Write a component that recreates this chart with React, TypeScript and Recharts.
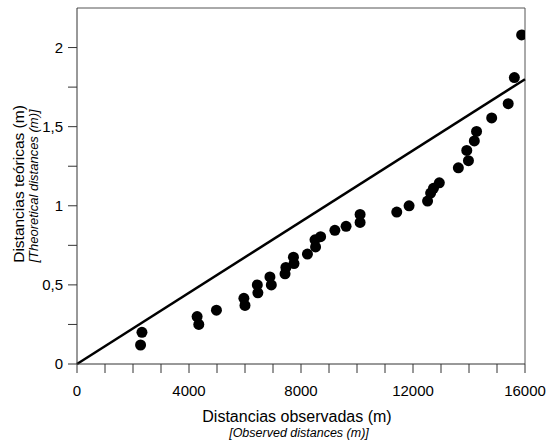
import React from 'react';
import { ScatterChart, Scatter, XAxis, YAxis, ReferenceLine } from 'recharts';

const observedDistances = [
  2270, 2320, 4290, 4350, 4980, 5960, 6000, 6440, 6460, 6890, 6940, 7430, 7460,
  7730, 7750, 8230, 8520, 8500, 8700, 9210, 9610, 10110, 10110, 11420, 11860,
  12520, 12630, 12730, 12940, 13620, 13980, 13920, 14190, 14270, 14810, 15400,
  15620, 15880,
];
const theoreticalDistances = [
  0.12, 0.2, 0.3, 0.25, 0.34, 0.415, 0.37, 0.5, 0.45, 0.55, 0.5, 0.57, 0.61,
  0.675, 0.635, 0.695, 0.74, 0.785, 0.805, 0.845, 0.87, 0.945, 0.895, 0.96, 1.0,
  1.03, 1.08, 1.11, 1.145, 1.24, 1.285, 1.35, 1.41, 1.47, 1.555, 1.645, 1.81, 2.08,
];
const refLineX = [0, 16000];
const refLineY = [0, 1.8];

const xTicks = [0, 1000, 2000, 3000, 4000, 5000, 6000, 7000, 8000, 9000, 10000, 11000, 12000, 13000, 14000, 15000, 16000];
const xTickLabels = ['0', '', '', '', '4000', '', '', '', '8000', '', '', '', '12000', '', '', '', '16000'];
const yTicks = [0, 0.25, 0.5, 0.75, 1, 1.25, 1.5, 1.75, 2];
const yTickLabels = ['0', '', '0,5', '', '1', '', '1,5', '', '2'];

const xTitle = 'Distancias observadas (m)';
const xSubtitle = '[Observed distances (m)]';
const yTitle = 'Distancias teóricas (m)';
const ySubtitle = '[Theoretical distances (m)]';

const data = observedDistances.map((x, i) => ({ x, y: theoreticalDistances[i] }));

const FONT = '"Liberation Sans", Arial, sans-serif';

const XTick = (props: any) => {
  const { x, y, payload } = props;
  const idx = xTicks.indexOf(payload.value);
  const label = idx >= 0 ? xTickLabels[idx] : '';
  if (!label) return null;
  return (
    <text x={x} y={y} dy="0.71em" textAnchor="middle" fontSize={15} fontFamily={FONT} fill="#000">
      {label}
    </text>
  );
};

const YTick = (props: any) => {
  const { x, y, payload } = props;
  const idx = yTicks.indexOf(payload.value);
  const label = idx >= 0 ? yTickLabels[idx] : '';
  if (!label) return null;
  return (
    <text x={x} y={y} dy="0.36em" textAnchor="end" fontSize={15} fontFamily={FONT} fill="#000">
      {label}
    </text>
  );
};

const Dot = (props: any) => {
  const { cx, cy } = props;
  if (cx == null || cy == null) return null;
  return <circle cx={cx} cy={cy} r={5.5} fill="#000" />;
};

const XLabel = () => (
  <g>
    <text x={297} y={416} dy="0.36em" textAnchor="middle" fontSize={16} fontFamily={FONT} fill="#000">
      {xTitle}
    </text>
    <text x={299} y={432} dy="0.36em" textAnchor="middle" fontSize={12.5} fontStyle="italic" fontFamily={FONT} fill="#000">
      {xSubtitle}
    </text>
  </g>
);

const YLabel = () => (
  <g>
    <text x={18} y={184} dy="0.36em" textAnchor="middle" fontSize={15.5} fontFamily={FONT} fill="#000" transform="rotate(-90 18 184)">
      {yTitle}
    </text>
    <text x={33} y={186} dy="0.36em" textAnchor="middle" fontSize={13} fontStyle="italic" fontFamily={FONT} fill="#000" transform="rotate(-90 33 186)">
      {ySubtitle}
    </text>
  </g>
);

export default function App() {
  return (
    <div style={{ position: 'absolute', left: 0, top: 0, width: 547, height: 442, background: '#fff' }}>
      <ScatterChart width={547} height={442} margin={{ top: 8, right: 22, bottom: 0, left: 0 }}>
        <XAxis
          type="number"
          dataKey="x"
          domain={[0, 16000]}
          ticks={xTicks}
          interval={0}
          height={78}
          tickSize={9}
          tickMargin={12}
          tick={<XTick />}
          stroke="#333"
          allowDataOverflow
          label={<XLabel />}
        />
        <YAxis
          type="number"
          dataKey="y"
          domain={[0, 2.25]}
          ticks={yTicks}
          interval={0}
          width={77}
          tickSize={9}
          tickMargin={5}
          tick={<YTick />}
          stroke="#333"
          allowDataOverflow
          label={<YLabel />}
        />
        <ReferenceLine y={2.25} stroke="#555" strokeWidth={1} />
        <ReferenceLine x={16000} stroke="#555" strokeWidth={1} />
        <ReferenceLine
          segment={[
            { x: refLineX[0], y: refLineY[0] },
            { x: refLineX[1], y: refLineY[1] },
          ]}
          stroke="#000"
          strokeWidth={2.5}
        />
        <Scatter data={data} fill="#000" shape={<Dot />} isAnimationActive={false} />
      </ScatterChart>
    </div>
  );
}
